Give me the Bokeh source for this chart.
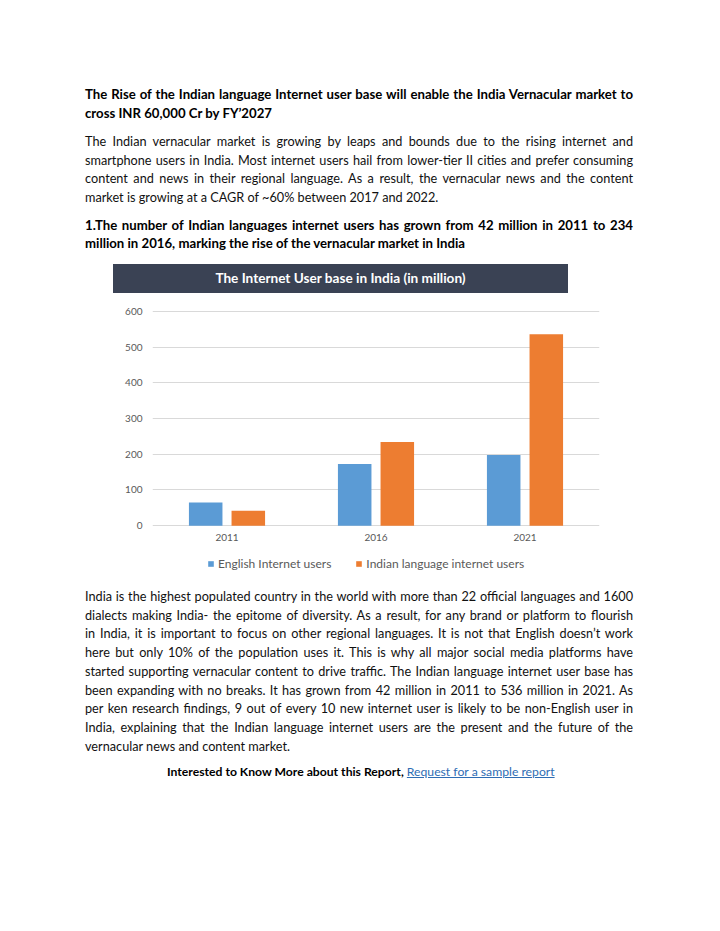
from bokeh.plotting import figure
from bokeh.models import Range1d, FactorRange, ColumnDataSource, Legend, LegendItem, Div
from bokeh.transform import dodge
from bokeh.layouts import column
from bokeh.embed import file_html
from bokeh.resources import INLINE

# ---------------- data ----------------
years = ["2011", "2016", "2021"]
english_users = [65, 173, 198]
indian_lang_users = [42, 234, 536]
y_ticks = [0, 100, 200, 300, 400, 500, 600]
series_names = ["English Internet users", "Indian language internet users"]
series_colors = ["#5B9BD5", "#ED7D31"]
chart_title = "The Internet User base in India (in million)"

heading1 = [
    "The Rise of the Indian language Internet user base will enable the India Vernacular market to",
    "cross INR 60,000 Cr by FY\u20192027",
]
para1 = [
    "The Indian vernacular market is growing by leaps and bounds due to the rising internet and",
    "smartphone users in India. Most internet users hail from lower-tier II cities and prefer consuming",
    "content and news in their regional language. As a result, the vernacular news and the content",
    "market is growing at a CAGR of ~60% between 2017 and 2022.",
]
heading2 = [
    "1.The number of Indian languages internet users has grown from 42 million in 2011 to 234",
    "million in 2016, marking the rise of the vernacular market in India",
]
para2 = [
    "India is the highest populated country in the world with more than 22 official languages and 1600",
    "dialects making India- the epitome of diversity. As a result, for any brand or platform to flourish",
    "in India, it is important to focus on other regional languages. It is not that English doesn\u2019t work",
    "here but only 10% of the population uses it.  This is why all major social media platforms have",
    "started supporting vernacular content to drive traffic. The Indian language internet user base has",
    "been expanding with no breaks. It has grown from 42 million in 2011 to 536 million in 2021.  As",
    "per ken research findings, 9 out of every 10 new internet user is likely to be non-English user in",
    "India, explaining that the Indian language internet users are the present and the future of the",
    "vernacular news and content market.",
]
footer_bold = "Interested to Know More about this Report,"
footer_link = "Request for a sample report"

FONT = "Lato"
LX = 85                # text left edge (page px)
TW = 548               # text block width
STEP = 18.7
LH = 18
W = 712
FRAME_L, FRAME_R = 152, 599


def line_html(text, y_center, y0, bold=False, last=False, size=12.7, color="#111111"):
    top = y_center - y0 - LH / 2
    align = "left" if last else "justify"
    return (f'<div style="position:absolute; left:{LX}px; top:{top:.1f}px; width:{TW}px; '
            f'height:{LH}px; line-height:{LH}px; white-space:nowrap; font-size:{size}px; '
            f'font-weight:{"700" if bold else "400"}; color:{color}; '
            f'text-align:{align}; text-align-last:{align};">{text}</div>')


def block(texts, y_start, y0, bold=False, size=12.7, color="#111111"):
    out = []
    for i, t in enumerate(texts):
        out.append(line_html(t, y_start + i * STEP, y0, bold=bold, last=(i == len(texts) - 1),
                             size=size, color=color))
    return "".join(out)


# ---------------- top text block (page y 0..300) ----------------
top_h = 300
top_html = (f'<div style="position:relative; width:{W}px; height:{top_h}px; font-family:{FONT}, sans-serif;">'
            + block(heading1, 94, 0, bold=True, size=13.2, color="#000000")
            + block(para1, 141, 0)
            + block(heading2, 224.5, 0, bold=True, size=13.2, color="#000000")
            + f'<div style="position:absolute; left:113px; top:264px; width:455px; height:29px; '
              f'background:#3A4254; color:#ffffff; font-weight:700; font-size:13.6px; line-height:29px; '
              f'text-align:center;">{chart_title}</div>'
            + '</div>')
top_div = Div(text=top_html, width=W, height=top_h, margin=0)

# ---------------- chart (page y 300..556) ----------------
src = ColumnDataSource(dict(year=years, english=english_users, indian=indian_lang_users))
c = figure(width=W, height=256, x_range=FactorRange(factors=years, range_padding=0),
           y_range=Range1d(-5.04, 605.3), output_backend="svg", toolbar_location=None,
           min_border_left=FRAME_L, min_border_right=W - FRAME_R, min_border_top=9,
           min_border_bottom=29, margin=0)
c.outline_line_color = None
c.background_fill_color = "white"
c.border_fill_color = "white"

r1 = c.vbar(x=dodge("year", -0.143, range=c.x_range), top="english", width=0.225, source=src,
            fill_color=series_colors[0], line_color=None)
r2 = c.vbar(x=dodge("year", 0.143, range=c.x_range), top="indian", width=0.225, source=src,
            fill_color=series_colors[1], line_color=None)

c.yaxis.ticker = y_ticks
c.yaxis.axis_line_color = None
c.yaxis.major_tick_line_color = None
c.yaxis.minor_tick_line_color = None
c.yaxis.major_tick_out = 0
c.yaxis.major_tick_in = 0
c.yaxis.major_label_text_color = "#595959"
c.yaxis.major_label_text_font = FONT
c.yaxis.major_label_text_font_size = "10px"
c.yaxis.major_label_standoff = 10

c.xaxis.axis_line_color = None
c.xaxis.major_tick_line_color = None
c.xaxis.major_tick_out = 0
c.xaxis.major_tick_in = 0
c.xaxis.major_label_text_color = "#595959"
c.xaxis.major_label_text_font = FONT
c.xaxis.major_label_text_font_size = "10px"
c.xaxis.major_label_standoff = 6

c.xgrid.visible = False
c.ygrid.grid_line_color = "#D9D9D9"
c.ygrid.grid_line_width = 1

# ---------------- legend strip (page y 556..578) ----------------
# same series and x-scale as the chart, viewed through a y-window far above every
# value so that no bar shows; the strip only carries the legend under the axis labels
lf = figure(width=W, height=22, x_range=c.x_range, y_range=Range1d(100000, 100001),
            output_backend="svg", toolbar_location=None, x_axis_type=None, y_axis_type=None,
            min_border_left=FRAME_L, min_border_right=W - FRAME_R, min_border_top=0,
            min_border_bottom=0, margin=0)
lf.grid.visible = False
lf.outline_line_color = None
lf.background_fill_color = "white"
lf.border_fill_color = "white"
lr1 = lf.vbar(x=dodge("year", -0.143, range=c.x_range), top="english", width=0.225, source=src,
              fill_color=series_colors[0], line_color=None)
lr2 = lf.vbar(x=dodge("year", 0.143, range=c.x_range), top="indian", width=0.225, source=src,
              fill_color=series_colors[1], line_color=None)
legend = Legend(items=[LegendItem(label=series_names[0], renderers=[lr1]),
                       LegendItem(label=series_names[1], renderers=[lr2])],
                orientation="horizontal", location=(207 - FRAME_L, 7),
                label_text_font=FONT, label_text_font_size="12px", label_text_color="#595959",
                glyph_width=7, glyph_height=7, label_height=14, label_standoff=4,
                spacing=24, padding=0, margin=0, border_line_color=None,
                background_fill_alpha=0)
lf.add_layout(legend)

# ---------------- bottom text block (page y 578..928) ----------------
bot_y0 = 578
bot_h = 350
bottom_html = (f'<div style="position:relative; width:{W}px; height:{bot_h}px; font-family:{FONT}, sans-serif;">'
               + block(para2, 596, bot_y0)
               + f'<div style="position:absolute; left:167px; top:{772 - bot_y0 - 9}px; width:386px; '
                 f'height:18px; line-height:18px; white-space:nowrap; font-size:12.2px; text-align:center;">'
                 f'<span style="font-weight:700; color:#000000;">{footer_bold}</span> '
                 f'<span style="color:#2E6DB4; text-decoration:underline;">{footer_link}</span></div>'
               + '</div>')
bottom_div = Div(text=bottom_html, width=W, height=bot_h, margin=0)

layout = column(top_div, c, lf, bottom_div, spacing=0)
open("out.html", "w").write(file_html(layout, INLINE, title="Indian language internet users"))
